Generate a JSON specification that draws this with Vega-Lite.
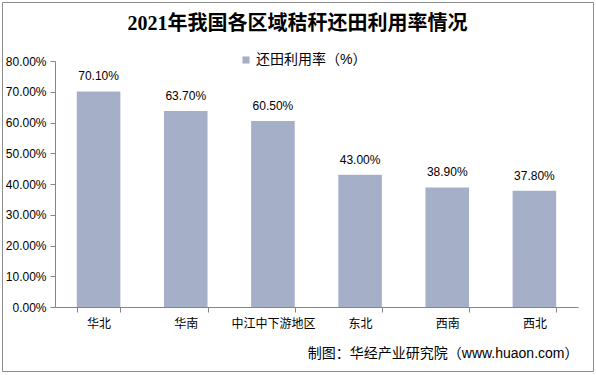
{
  "$schema": "https://vega.github.io/schema/vega-lite/v6.json",
  "width": 591,
  "height": 369,
  "autosize": {"type": "none"},
  "padding": {"left": 2, "top": 2, "right": 3, "bottom": 4},
  "background": "white",
  "config": {"view": {"stroke": "#8c8c8c", "strokeWidth": 1}, "font": "Liberation Sans"},
  "title": {
    "text": "2021年我国各区域秸秆还田利用率情况",
    "font": "Liberation Serif, Noto Sans CJK SC",
    "fontSize": 20,
    "fontWeight": "bold",
    "color": "#000000",
    "anchor": "middle",
    "frame": "group",
    "offset": -32
  },
  "data": {
    "values": [
      {"region": "华北", "value": 0.701, "series": "还田利用率（%）"},
      {"region": "华南", "value": 0.637, "series": "还田利用率（%）"},
      {"region": "中江中下游地区", "value": 0.605, "series": "还田利用率（%）"},
      {"region": "东北", "value": 0.43, "series": "还田利用率（%）"},
      {"region": "西南", "value": 0.389, "series": "还田利用率（%）"},
      {"region": "西北", "value": 0.378, "series": "还田利用率（%）"}
    ]
  },
  "encoding": {
    "x": {
      "field": "region",
      "type": "nominal",
      "sort": null,
      "scale": {"range": [53, 576], "paddingInner": 0.5, "paddingOuter": 0.25},
      "axis": {
        "offset": -64,
        "labelAngle": 0,
        "labelFont": "Noto Sans CJK SC",
        "labelFontSize": 12,
        "labelColor": "#000000",
        "labelPadding": 6,
        "tickBand": "extent",
        "tickSize": 5,
        "tickColor": "#868686",
        "domainColor": "#868686",
        "title": "制图：华经产业研究院（www.huaon.com）",
        "titleFont": "Liberation Sans, Noto Sans CJK SC",
        "titleFontSize": 14,
        "titleFontWeight": "normal",
        "titleColor": "#000000",
        "titleAnchor": "end",
        "titlePadding": 17
      }
    },
    "y": {
      "field": "value",
      "type": "quantitative",
      "scale": {"domain": [0, 0.8], "range": [305, 59], "nice": false},
      "axis": {
        "offset": -53,
        "values": [0, 0.1, 0.2, 0.3, 0.4, 0.5, 0.6, 0.7, 0.8],
        "format": ".2%",
        "grid": false,
        "title": null,
        "labelFontSize": 12,
        "labelColor": "#000000",
        "labelPadding": 4,
        "tickSize": 5,
        "tickColor": "#868686",
        "domainColor": "#868686"
      }
    }
  },
  "layer": [
    {
      "mark": {"type": "bar"},
      "encoding": {
        "color": {
          "field": "series",
          "type": "nominal",
          "scale": {"range": ["#A5AFC8"]},
          "legend": {
            "title": null,
            "orient": "none",
            "legendX": 237,
            "legendY": 51,
            "padding": 0,
            "symbolType": "square",
            "symbolSize": 50,
            "symbolStrokeWidth": 0,
            "labelFont": "Liberation Sans, Noto Sans CJK SC",
            "labelFontSize": 14,
            "labelColor": "#000000",
            "labelOffset": 3
          }
        }
      }
    },
    {
      "mark": {"type": "text", "baseline": "bottom", "dy": -8, "fontSize": 12, "font": "Liberation Sans", "color": "#000000"},
      "encoding": {
        "text": {"field": "value", "type": "quantitative", "format": ".2%"}
      }
    }
  ]
}
